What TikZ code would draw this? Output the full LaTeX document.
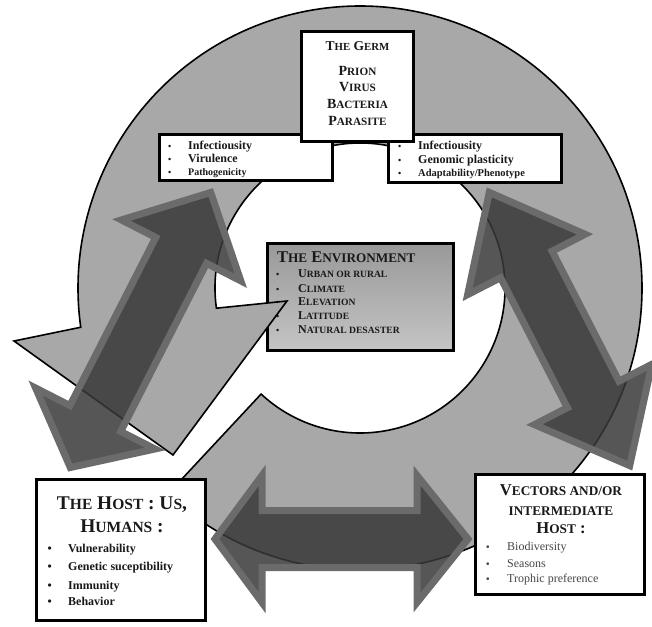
\documentclass[tikz,border=0pt]{standalone}
\usepackage{fontspec}
\setmainfont{Liberation Serif}
\usetikzlibrary{calc}
\makeatletter
\newcommand\sk[1]{{\fontsize{\fpeval{0.8*\f@size}}{0}\selectfont #1}}
\makeatother
\definecolor{ringgray}{gray}{0.66}
\definecolor{arrfill}{gray}{0.22}
\definecolor{arrline}{gray}{0.42}
\definecolor{txt}{gray}{0.1}
\definecolor{txtlight}{gray}{0.28}
\definecolor{envtop}{gray}{0.60}
\definecolor{envbot}{gray}{0.77}
\tikzset{
  box/.style={draw=black, line width=3pt, fill=white, rectangle, inner sep=0pt},
  ringshape/.style={fill=ringgray, draw=black, line width=1.6pt, line join=miter},
  bigarrow/.style={fill=arrfill, fill opacity=0.85, draw=arrline, draw opacity=1, line width=7pt, line join=miter, miter limit=6},
  ctext/.style={inner sep=0pt, anchor=base, text=txt},
  ltext/.style={inner sep=0pt, anchor=base west, text=txt},
  fb/.style={font=\bfseries\fontsize{#1}{#1}\selectfont},
  fr/.style={font=\fontsize{#1}{#1}\selectfont}
}
% double-headed block arrow between two named coordinates
\newcommand{\dblarrow}[6]{%
  \coordinate (tA) at ($(#1)!#5!(#2)$);
  \coordinate (tB) at ($(#2)!#6!(#1)$);
  \draw[bigarrow] (#1) -- ($(tA)!#4!90:(#2)$) -- ($(tA)!#3!90:(#2)$)
    -- ($(tB)!#3!-90:(#1)$) -- ($(tB)!#4!-90:(#1)$) -- (#2)
    -- ($(tB)!#4!90:(#1)$) -- ($(tB)!#3!90:(#1)$)
    -- ($(tA)!#3!-90:(#2)$) -- ($(tA)!#4!-90:(#2)$) -- cycle;
}
\begin{document}
\begin{tikzpicture}[x=1pt,y=-1pt]
\useasboundingbox (0,0) rectangle (652,626);
\coordinate (c) at (360,288);

% ---- environment box (below the ring) ----
\node[box, top color=envtop, bottom color=envbot, minimum width=186pt, minimum height=107pt] (env) at (360.5,297) {};
\node[ltext, fb=16.5] (envt) at (277,262.5) {T\sk{HE} E\sk{NVIRONMENT}};
\foreach \y/\t [count=\i] in {277.7/U\sk{RBAN OR RURAL}, 292/C\sk{LIMATE}, 305.5/E\sk{LEVATION}, 319.5/L\sk{ATITUDE}, 333/N\sk{ATURAL DESASTER}}{
  \node[ltext, fb=9] (envb\i) at (276,\y) {\textbullet};
  \node[ltext, fb=12] (envi\i) at (298,\y) {\t};
}

% ---- circular arrow ----
\draw[ringshape] ([shift={(c)}]133:282) arc[start angle=133, end angle=-188, radius=282]
  -- (14,341) -- (173,455) -- (287,301)
  -- ([shift={(c)}]-188:145) arc[start angle=-188, end angle=133, radius=145] -- cycle;

% ---- dark double arrows ----
\coordinate (la1) at (70.3,467.5);
\coordinate (la2) at (210.7,192.5);
\dblarrow{la1}{la2}{28.5pt}{67pt}{55pt}{65pt}
\coordinate (ra1) at (489.3,192.4);
\coordinate (ra2) at (629.7,465.6);
\dblarrow{ra1}{ra2}{29pt}{66pt}{81pt}{80pt}
\coordinate (ba1) at (215,539);
\coordinate (ba2) at (468,539);
\dblarrow{ba1}{ba2}{28.5pt}{63.5pt}{47pt}{51pt}

% ---- germ side boxes ----
\node[box, minimum width=173pt, minimum height=46pt] (gl) at (246,157.5) {};
\node[box, minimum width=173pt, minimum height=48pt] (gr) at (475,158.5) {};
\node[box, minimum width=112pt, minimum height=110pt] (germ) at (357.5,86.5) {};

\node[ctext, fb=13.5] (germt) at (357.5,50) {T\sk{HE} G\sk{ERM}};
\node[ctext, fb=14] (g1) at (357.5,75) {P\sk{RION}};
\node[ctext, fb=14] (g2) at (357.5,91.7) {V\sk{IRUS}};
\node[ctext, fb=14] (g3) at (357.5,108.3) {B\sk{ACTERIA}};
\node[ctext, fb=14] (g4) at (357.5,125) {P\sk{ARASITE}};

\foreach \y/\t/\s [count=\i] in {149/Infectiousity/12, 162.3/Virulence/12, 175.5/Pathogenicity/10}{
  \node[ltext, fb=9] (glb\i) at (168,\y) {\textbullet};
  \node[ltext, fb=\s] (gli\i) at (188,\y) {\t};
}
\foreach \y/\t/\s [count=\i] in {149/Infectiousity/12, 163/Genomic plasticity/12, 176.5/Adaptability\slash Phenotype/10.5}{
  \node[ltext, fb=9] (grb\i) at (398,\y) {\textbullet};
  \node[ltext, fb=\s] (gri\i) at (418,\y) {\t};
}

% ---- host box ----
\node[box, minimum width=169pt, minimum height=141pt] (host) at (121,550) {};
\node[ctext, fb=19.4] (hostt1) at (122,509) {T\sk{HE} H\sk{OST} : U\sk{S},};
\node[ctext, fb=19.4] (hostt2) at (122,532) {H\sk{UMANS} :};
\foreach \y/\t [count=\i] in {552.5/Vulnerability, 570.5/Genetic suceptibility, 589/Immunity, 605/Behavior}{
  \node[ltext, fb=12] (hb\i) at (47.5,\y) {\textbullet};
  \node[ltext, fb=12] (hi\i) at (68,\y) {\t};
}

% ---- vectors box ----
\node[box, minimum width=169pt, minimum height=120pt] (vect) at (560,534.5) {};
\node[ctext, fb=16.6] (vt1) at (561,495) {V\sk{ECTORS AND/OR}};
\node[ctext, fb=16.6] (vt2) at (561,515) {\sk{INTERMEDIATE}};
\node[ctext, fb=16.6] (vt3) at (561,533) {H\sk{OST} :};
\foreach \y/\t [count=\i] in {550.5/Biodiversity, 567.5/Seasons, 582.5/Trophic preference}{
  \node[ltext, fb=10, text=txtlight] (vb\i) at (486,\y) {\textbullet};
  \node[ltext, fr=12, text=txtlight] (vi\i) at (507,\y) {\t};
}
\end{tikzpicture}
\end{document}
